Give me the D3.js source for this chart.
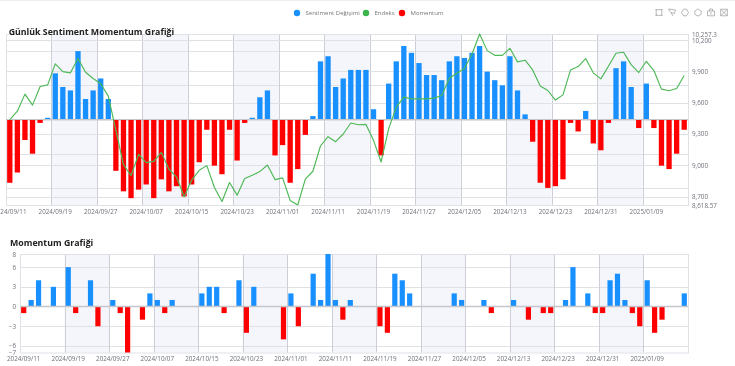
<!DOCTYPE html>
<html><head><meta charset="utf-8">
<script src="https://cdn.jsdelivr.net/npm/d3@7"></script>
<style>
html,body{margin:0;padding:0;background:#fff;overflow:hidden}
svg{display:block;filter:blur(0.35px)}
text{font-family:"Open Sans","Noto Sans",sans-serif}
</style></head><body>
<div id="chart"></div>
<script>
const dates = ["2024/09/11","2024/09/12","2024/09/13","2024/09/16","2024/09/17","2024/09/18","2024/09/19","2024/09/20","2024/09/23","2024/09/24","2024/09/25","2024/09/26","2024/09/27","2024/09/30","2024/10/01","2024/10/02","2024/10/03","2024/10/04","2024/10/07","2024/10/08","2024/10/09","2024/10/10","2024/10/11","2024/10/14","2024/10/15","2024/10/16","2024/10/17","2024/10/18","2024/10/21","2024/10/22","2024/10/23","2024/10/24","2024/10/25","2024/10/28","2024/10/30","2024/10/31","2024/11/01","2024/11/04","2024/11/05","2024/11/06","2024/11/07","2024/11/08","2024/11/11","2024/11/12","2024/11/13","2024/11/14","2024/11/15","2024/11/18","2024/11/19","2024/11/20","2024/11/21","2024/11/22","2024/11/25","2024/11/26","2024/11/27","2024/11/28","2024/11/29","2024/12/02","2024/12/03","2024/12/04","2024/12/05","2024/12/06","2024/12/09","2024/12/10","2024/12/11","2024/12/12","2024/12/13","2024/12/16","2024/12/17","2024/12/18","2024/12/19","2024/12/20","2024/12/23","2024/12/24","2024/12/25","2024/12/26","2024/12/27","2024/12/30","2024/12/31","2025/01/02","2025/01/03","2025/01/06","2025/01/07","2025/01/08","2025/01/09","2025/01/10","2025/01/13","2025/01/14","2025/01/15","2025/01/16"];
const sentimentChange = [-37,-31,-12,-20,-2,1,27,19,17,40,12,17,24,12,-30,-42,-46,-41,-38,-46,-35,-42,-39,-45,-38,-25,-6,-27,-32,-6,-24,-2,1,13,17,-21,-15,-37,-29,-9,2,34,37,19,24,29,29,29,6,-21,21,34,43,39,33,26,26,23,34,37,36,39,43,28,23,20,37,17,3,-13,-37,-40,-39,-35,-2,-7,5,-14,-18,-2,30,34,19,-5,21,-5,-27,-29,-20,-6];
const indexValues = [9436,9518,9681,9576,9754,9770,9971,9897,9885,10022,9891,9831,9780,9662,9334,9006,8901,9104,9025,9037,9123,8961,8888,8697,8856,8951,8996,8786,8652,8834,8713,8872,8904,8939,9002,8862,8878,8662,8618.57,8866,8942,9184,9273,9225,9299,9404,9388,9391,9238,9031,9350,9557,9652,9636,9636,9636,9643,9668,9834,9881,9926,10066,10257.3,10098,10053,10053,10120,9990,10006,9913,9760,9716,9624,9674,9913,9945,10022,9885,9827,9948,10073,10082,9964,9888,9996,9907,9729,9713,9735,9859];
const momentum = [-1,1,4,0,3,0,6,-1,0,4,-3,0,1,-1,-7,0,-2,2,1,-1,1,0,0,0,2,3,3,-1,0,4,-4,3,0,0,0,-5,2,-3,0,5,1,8,1,-2,1,0,0,0,-3,-4,5,4,2,0,0,0,0,0,2,1,0,0,1,-1,0,0,1,0,-2,0,-1,-1,0,1,6,0,2,-1,-1,4,5,1,-1,-3,4,-4,-2,0,0,2];
const leftTicks = [-40,-20,0,20,40];
const rightTicks = [8618.57,8700,9000,9300,9600,9900,10200,10257.3];
const rightLabels = ["8,618.57","8,700","9,000","9,300","9,600","9,900","10,200","10,257.3"];
const momentumTicks = [-7,-6,-3,0,3,6,8];
const legendItems = [["Sentiment Değişimi","#1890ff"],["Endeks","#39b54a"],["Momentum","#ff0000"]];
const mainTitle = "Günlük Sentiment Momentum Grafiği";
const subTitle = "Momentum Grafiği";

const W=735,H=366;
const svg=d3.select("#chart").append("svg").attr("width",W).attr("height",H);
const BLUE="#1890ff",RED="#ff0000",GRID="#dfe1e7",SPLIT="#cdcfd6",SHADE="rgba(200,208,235,0.2)",TXT="#6e7079",FF='"Open Sans","Noto Sans",sans-serif';
svg.append("line").attr("x1",0).attr("x2",W).attr("y1",0.5).attr("y2",0.5).attr("stroke","#eeeeee");

function panel(t,b,l,r,values,yDomain,gridTicks,zeroW){
  const x=d3.scaleBand().domain(dates).range([l,r]);
  const y=d3.scaleLinear().domain(yDomain).range([b,t]);
  const g=svg.append("g");
  const tickCats=dates.filter((d,i)=>i%6===0);
  g.selectAll("rect.sa").data(tickCats.filter((d,i)=>i%2===1)).join("rect")
    .attr("class","sa").attr("x",d=>x(d)).attr("y",t).attr("width",x.step()*6).attr("height",b-t).attr("fill",SHADE);
  g.selectAll("line.h").data(gridTicks).join("line")
    .attr("class","h").attr("x1",l).attr("x2",r).attr("y1",d=>Math.round(y(d))+.5).attr("y2",d=>Math.round(y(d))+.5)
    .attr("stroke",GRID).attr("stroke-width",1);
  g.selectAll("line.v").data(tickCats.slice(1)).join("line")
    .attr("class","v").attr("x1",d=>Math.round(x(d))+.5).attr("x2",d=>Math.round(x(d))+.5).attr("y1",t).attr("y2",b)
    .attr("stroke",SPLIT).attr("stroke-width",1);
  g.append("rect").attr("x",l+.5).attr("y",t+.5).attr("width",r-l).attr("height",b-t)
    .attr("fill","none").attr("stroke",GRID);
  return {x,y,g,b,l,r,tickCats,zeroW,values};
}
function drawBars(p){
  const {x,y,g,b,l,r,tickCats,zeroW,values}=p;
  const bw=x.step()*0.7;
  g.selectAll("rect.bar").data(values.map((v,i)=>({d:dates[i],v}))).join("rect")
    .attr("class","bar").attr("x",d=>x(d.d)+(x.step()-bw)/2).attr("width",bw)
    .attr("y",d=>Math.min(y(d.v),y(0))).attr("height",d=>Math.abs(y(d.v)-y(0)))
    .attr("fill",d=>d.v>=0?BLUE:RED);
  g.append("line").attr("x1",l).attr("x2",r).attr("y1",y(0)).attr("y2",y(0)).attr("stroke","#c4c6cc").attr("stroke-width",zeroW);
  g.selectAll("text.xl").data(tickCats).join("text")
    .attr("class","xl").attr("x",d=>x(d)+x.step()/2).attr("y",b+8.5).attr("text-anchor","middle")
    .attr("font-size",6.3).attr("fill",TXT).text(d=>d);
}

// upper chart
const top1=panel(34,205,6,688,sentimentChange,[-50,50],leftTicks,1);
const yR=d3.scaleLinear().domain([8618.57,10257.3]).range([205,34]);
top1.g.selectAll("line.rg").data(rightTicks).join("line")
  .attr("class","rg").attr("x1",6).attr("x2",688).attr("y1",d=>Math.round(yR(d))+.5).attr("y2",d=>Math.round(yR(d))+.5)
  .attr("stroke",GRID);
drawBars(top1);
const rightAxis=d3.axisRight(yR).tickValues(rightTicks).tickSize(0).tickPadding(4)
  .tickFormat(d=>rightLabels[rightTicks.indexOf(d)]);
const ra=svg.append("g").attr("transform","translate(688,0)").call(rightAxis);
ra.select(".domain").remove();
ra.selectAll("text").attr("font-size",6.3).attr("fill",TXT).style("font-family",FF);
svg.append("path").datum(indexValues)
  .attr("fill","none").attr("stroke","#4db856").attr("stroke-width",1.15).attr("stroke-linejoin","round")
  .attr("d",d3.line().x((d,i)=>top1.x(dates[i])+top1.x.step()/2).y(d=>yR(d)));

// lower chart
const bot=panel(254,352.5,20,688,momentum,[-7,8],[-6,-3,3,6],1.5);
drawBars(bot);
const leftAxis=d3.axisLeft(bot.y).tickValues(momentumTicks).tickSize(0).tickPadding(4);
const la=svg.append("g").attr("transform","translate(20,0)").call(leftAxis);
la.select(".domain").remove();
la.selectAll("text").attr("font-size",6.3).attr("fill",TXT).style("font-family",FF);

// titles
svg.append("text").attr("x",8.7).attr("y",35.3).attr("font-size",8.8).attr("font-weight",700).attr("fill","#222").text(mainTitle);
svg.append("text").attr("x",10).attr("y",246.3).attr("font-size",8.8).attr("font-weight",700).attr("fill","#222").text(subTitle);

// legend
const lx=[297,366,402];
legendItems.forEach((it,i)=>{
  svg.append("circle").attr("cx",lx[i]).attr("cy",13).attr("r",3.2).attr("fill",it[1]);
  svg.append("text").attr("x",lx[i]+8.5).attr("y",15.2).attr("font-size",6).attr("fill","#777").text(it[0]);
});

// toolbox
const toolX=[659,672,685,698,711,724];
const toolPaths=[
 "M-3.5,-2.8H3.5M-3.5,2.8H3.5M-2.8,-3.5V3.5M2.8,-3.5V3.5",
 "M-3.5,-3.5L3.5,-2.5L2.5,1L-1,0L1,3.5M-3.5,-3.5L-1,0",
 "M-1.5,-3.3H1.5L3.5,0L1.5,3.3H-1.5L-3.5,0Z",
 "M0,-3.6L3.2,-1.4V1.8L0,3.6L-3.2,1.8V-1.4Z",
 "M-3.5,-1.5H3.5V3.3H-3.5ZM-1.5,-1.5V-3.5H1.5V-1.5M0,-0.5V2",
 "M-3.3,-3.3H3.3V3.3H-3.3ZM-3.3,-3.3L3.3,3.3M3.3,-3.3L-3.3,3.3"];
toolPaths.forEach((p,i)=>svg.append("path").attr("d",p)
  .attr("transform",`translate(${toolX[i]},12.5)`).attr("fill","none").attr("stroke","#999").attr("stroke-width",.7));
</script>
</body></html>
